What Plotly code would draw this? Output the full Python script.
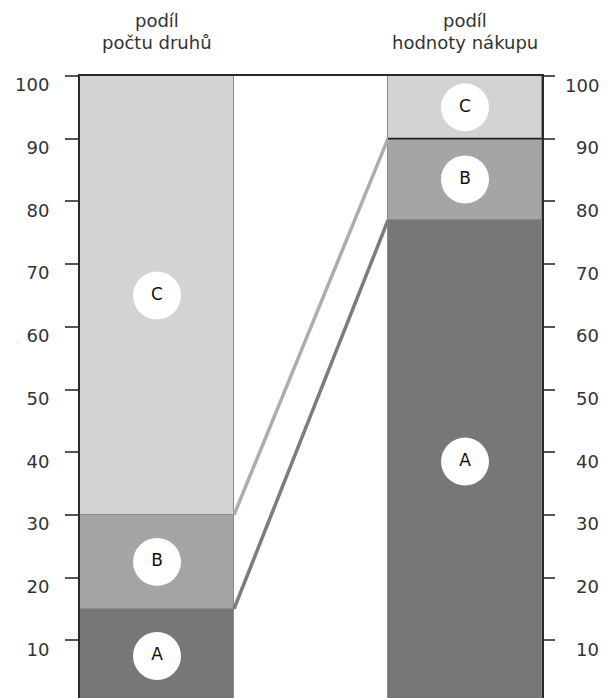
import plotly.graph_objects as go
import numpy as np

# ---- data ----
header_lines = [["podíl", "počtu druhů"], ["podíl", "hodnoty nákupu"]]
col_x = [0, 2]
categories = ["A", "B", "C"]
share_count = [15, 15, 70]      # left bar
share_value = [77, 13, 10]      # right bar
tick_vals = [10, 20, 30, 40, 50, 60, 70, 80, 90, 100]
tick_text = ["10", "20", "30", "40", "50", "60", "70", "80", "90", "100"]

fill_colors = {"A": "#787677", "B": "#a6a4a5", "C": "#d3d3d3"}
connector_colors = {"A": "#7d7b7c", "B": "#aeacad"}

FONT = "DejaVu Sans, Liberation Sans, Arial, sans-serif"
W, H = 601, 690
YMIN, YMAX = 0.8, 100

fig = go.Figure()

series = [share_count, share_value]
for ci, cat in enumerate(categories):
    fig.add_trace(go.Bar(
        x=col_x,
        y=[share_count[ci], share_value[ci]],
        width=1.0,
        marker=dict(color=fill_colors[cat], line=dict(color="#8a8a8a", width=1.5)),
        showlegend=False, hoverinfo="skip",
    ))

cum_left = np.cumsum(share_count)
cum_right = np.cumsum(share_value)

# connector lines between boundaries
for ci, cat in enumerate(["A", "B"]):
    fig.add_trace(go.Scatter(
        x=[col_x[0] + 0.5, col_x[1] - 0.5],
        y=[cum_left[ci], cum_right[ci]],
        mode="lines",
        line=dict(color=connector_colors[cat], width=3.5),
        showlegend=False, hoverinfo="skip",
    ))

# black boundary line at top of B in right bar
fig.add_trace(go.Scatter(
    x=[col_x[1] - 0.5, col_x[1] + 0.5],
    y=[cum_right[1], cum_right[1]],
    mode="lines", line=dict(color="#222222", width=1.8),
    showlegend=False, hoverinfo="skip",
))

# circle labels
for vals, cx in zip(series, col_x):
    cum = np.cumsum(vals)
    mids = cum - np.array(vals) / 2
    fig.add_trace(go.Scatter(
        x=[cx] * len(vals), y=mids,
        mode="markers+text",
        marker=dict(size=48, color="white", line=dict(width=0)),
        text=categories, textposition="middle center",
        textfont=dict(family=FONT, size=17, color="#111111"),
        showlegend=False, hoverinfo="skip",
    ))

# headers (one annotation per line for tight line spacing)
line_shifts = [56, 34]
for lines, cx in zip(header_lines, col_x):
    for ln, ys in zip(lines, line_shifts):
        fig.add_annotation(
            x=cx, xref="x", y=1, yref="paper", yanchor="middle", yshift=ys,
            text=ln, showarrow=False, align="center",
            font=dict(family=FONT, size=18, color="#333333"),
        )

# right tick labels (right-aligned)
for v, t in zip(tick_vals, tick_text):
    fig.add_annotation(
        x=1, xref="paper", xanchor="right", xshift=59,
        y=v, yref="y", yshift=-9, yanchor="middle",
        text=t, showarrow=False,
        font=dict(family=FONT, size=18, color="#333333"),
    )

fig.update_layout(
    width=W, height=H,
    margin=dict(l=72, r=67, t=68, b=0),
    paper_bgcolor="white", plot_bgcolor="white",
    barmode="stack", bargap=0,
    xaxis=dict(range=[-0.5, 2.5], side="top", showline=True, linecolor="#2a2a2a",
               linewidth=2, showticklabels=False, ticks="", showgrid=False, zeroline=False),
    yaxis=dict(range=[YMIN, YMAX], tickvals=tick_vals, ticktext=tick_text,
               ticks="outside", ticklen=13, tickwidth=1.5, tickcolor="#555555",
               ticklabelstandoff=12, ticklabelshift=9,
               tickfont=dict(family=FONT, size=18, color="#333333"),
               showline=True, linecolor="#2a2a2a", linewidth=2,
               showgrid=False, zeroline=False),
    yaxis2=dict(range=[YMIN, YMAX], overlaying="y", side="right",
                tickvals=tick_vals, ticks="outside", ticklen=11, tickwidth=1.5,
                tickcolor="#555555", showticklabels=False,
                showline=True, linecolor="#2a2a2a", linewidth=2,
                showgrid=False, zeroline=False),
)
# dummy trace to activate yaxis2
fig.add_trace(go.Scatter(x=[None], y=[None], yaxis="y2", showlegend=False, hoverinfo="skip"))

fig.write_html("out.html")
